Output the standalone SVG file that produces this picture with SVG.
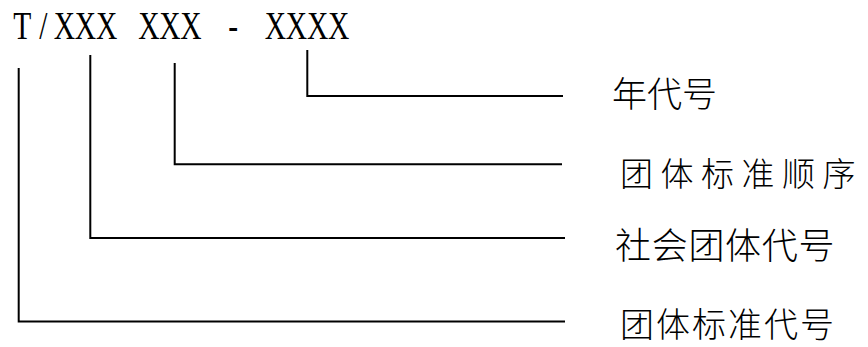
<svg xmlns="http://www.w3.org/2000/svg" width="868" height="347" viewBox="0 0 868 347">
<style>
.code{font-family:"Liberation Serif","Noto Serif",serif;font-size:41px;fill:#000;text-anchor:middle}
.lbl{font-family:"Noto Sans CJK SC","Noto Sans",sans-serif;font-weight:300;fill:#000}
.conn{fill:none;stroke:#000;stroke-width:2}
</style>
<rect width="868" height="347" fill="#fff"/>
<g id="code">
<g transform="scale(0.72,1)">
<text class="code" y="39.5" x="30.8 60.1 89.4 118.8 148.1 177.4 206.7 236.0 265.3 294.6 323.9 353.2 382.5 411.8 441.1 470.4">T/XXX XXX - XXXX</text>
</g>
</g>
<g id="connectors">
<path class="conn" d="M18.7,68 V321.5 H565"/>
<path class="conn" d="M90.3,55 V238 H565"/>
<path class="conn" d="M174.7,63 V164.3 H562"/>
<path class="conn" d="M307.3,50 V96 H563"/>
</g>
<g id="label-year"><text class="lbl" x="612" y="107" font-size="35">年代号</text></g>
<g id="label-seq"><text class="lbl" x="620" y="185.5" font-size="33" letter-spacing="7.5">团体标准顺序</text></g>
<g id="label-org"><text class="lbl" x="615" y="259" font-size="36" letter-spacing="0.7">社会团体代号</text></g>
<g id="label-std"><text class="lbl" x="620" y="337" font-size="34" letter-spacing="2">团体标准代号</text></g>
</svg>
